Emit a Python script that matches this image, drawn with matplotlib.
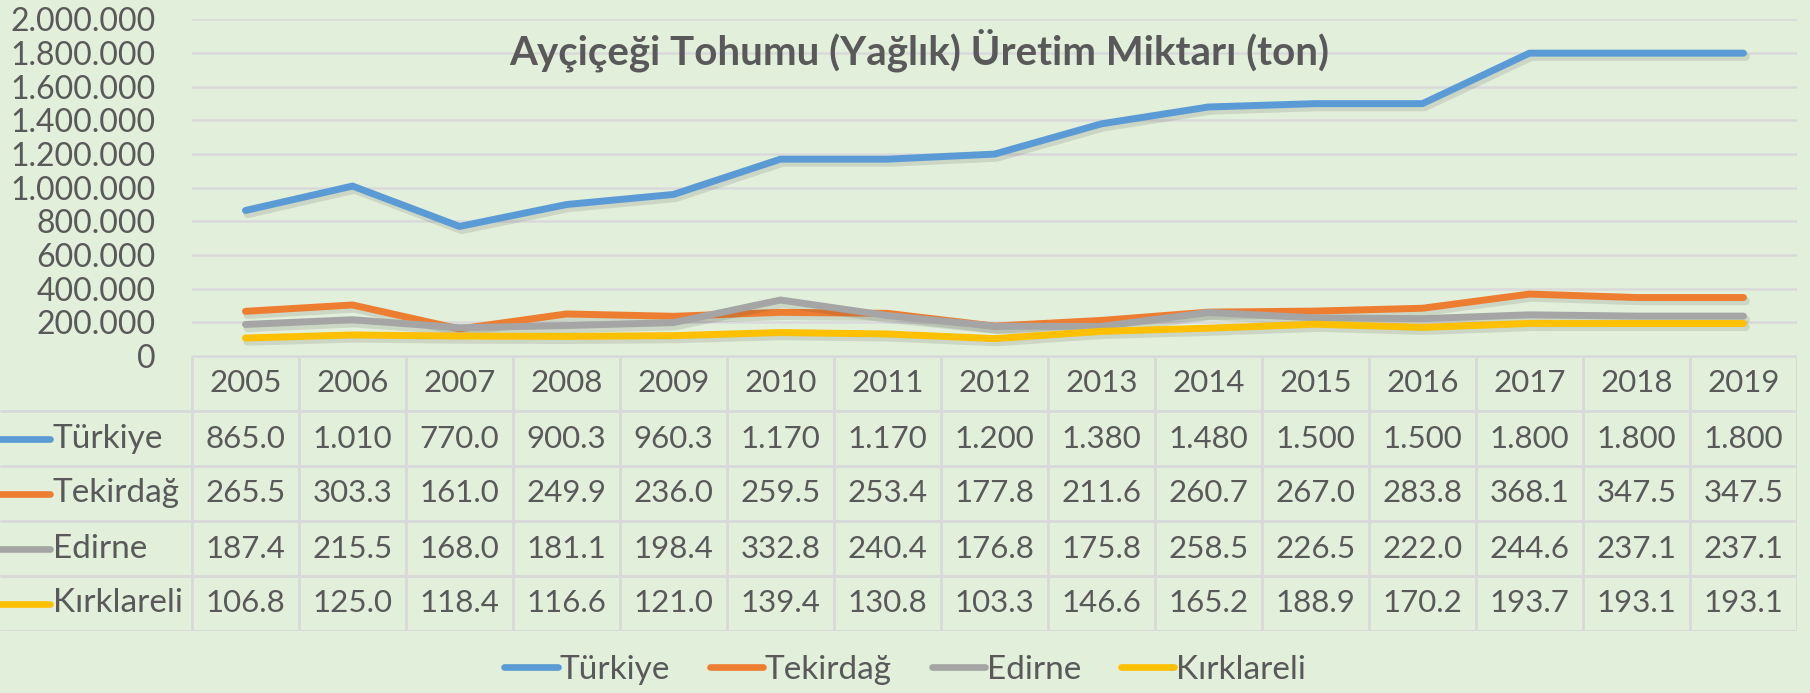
import matplotlib
matplotlib.use("Agg")
import matplotlib.pyplot as plt
import matplotlib.patheffects as pe
from matplotlib.lines import Line2D
from matplotlib.ticker import FuncFormatter, MultipleLocator

plt.rcParams['font.family'] = ['Lato', 'DejaVu Sans']

years = ['2005', '2006', '2007', '2008', '2009', '2010', '2011', '2012',
         '2013', '2014', '2015', '2016', '2017', '2018', '2019']
series_names = ['Türkiye', 'Tekirdağ', 'Edirne', 'Kırklareli']
# values in thousand tons
turkiye = [865.0, 1010, 770.0, 900.3, 960.3, 1170, 1170, 1200, 1380, 1480, 1500, 1500, 1800, 1800, 1800]
tekirdag = [265.5, 303.3, 161.0, 249.9, 236.0, 259.5, 253.4, 177.8, 211.6, 260.7, 267.0, 283.8, 368.1, 347.5, 347.5]
edirne = [187.4, 215.5, 168.0, 181.1, 198.4, 332.8, 240.4, 176.8, 175.8, 258.5, 226.5, 222.0, 244.6, 237.1, 237.1]
kirklareli = [106.8, 125.0, 118.4, 116.6, 121.0, 139.4, 130.8, 103.3, 146.6, 165.2, 188.9, 170.2, 193.7, 193.1, 193.1]
series_values = [turkiye, tekirdag, edirne, kirklareli]
colors = ['#5B9BD5', '#ED7D31', '#A5A5A5', '#FFC000']
title = 'Ayçiçeği Tohumu (Yağlık) Üretim Miktarı (ton)'

BG = '#E2EFDA'
TXT = '#595959'
GRID = '#D9D9D9'
FS = 22.5
FS_NAME = 24

W, H = 1810, 693
fig = plt.figure(figsize=(W / 100, H / 100), dpi=100, facecolor=BG)

# pixel layout
ax_l, ax_r = 192, 1797
ax_top, ax_bot = 19.5, 356
tab_bot = 631
n = len(years)
colw = (ax_r - ax_l) / n

ax = fig.add_axes([ax_l / W, 1 - ax_bot / H, (ax_r - ax_l) / W, (ax_bot - ax_top) / H])
ax.set_facecolor(BG)
x = list(range(n))
shadow = [pe.SimpleLineShadow(offset=(1.5, -2.5), shadow_color='#404040', alpha=0.14, linewidth=6),
          pe.Normal()]
for name, vals, c in zip(series_names, series_values, colors):
    ax.plot(x, [v * 1000 for v in vals], color=c, lw=5, solid_capstyle='round',
            solid_joinstyle='round', path_effects=shadow, zorder=3)
ax.set_xlim(-0.5, n - 0.5)
ax.set_ylim(0, 2000000)
ax.yaxis.set_major_locator(MultipleLocator(200000))
ax.yaxis.set_major_formatter(FuncFormatter(lambda v, p: f"{int(v):,}".replace(',', '.')))
ax.tick_params(axis='y', length=0, pad=26, labelsize=23, labelcolor=TXT)
ax.set_xticks([])
ax.grid(axis='y', color=GRID, lw=1.8, zorder=0)
for s in ax.spines.values():
    s.set_visible(False)
ax.text(0.453, 0.91, title, transform=ax.transAxes, ha='center', va='center',
        fontsize=29, fontweight='bold', color=TXT)

# data table
tab = fig.add_axes([0, 1 - tab_bot / H, ax_r / W, (tab_bot - ax_bot) / H])
tab.set_facecolor(BG)
tab.axis('off')
x0 = -0.5 - ax_l / colw
tab.set_xlim(x0, n - 0.5)
nrows = len(series_names) + 1
tab.set_ylim(nrows, 0)
lk = dict(color=GRID, lw=2, solid_capstyle='butt')
tab.plot([-0.5, n - 0.5], [0, 0], **lk)
for r in range(1, nrows + 1):
    tab.plot([x0, n - 0.5], [r, r], **lk)
for cidx in range(n + 1):
    tab.plot([cidx - 0.5, cidx - 0.5], [0, nrows], **lk)
for i, yr in enumerate(years):
    tab.text(i, 0.5, yr, ha='center', va='center', fontsize=FS, color=TXT)


def fmt(v):
    return f"{v:.1f}" if v < 1000 else f"{v:,.0f}".replace(',', '.')


for r, (name, vals, c) in enumerate(zip(series_names, series_values, colors), start=1):
    tab.plot([x0, x0 + 50 / colw], [r + 0.5, r + 0.5], color=c, lw=4.8, solid_capstyle='round')
    tab.text(x0 + 53 / colw, r + 0.5, name, ha='left', va='center', fontsize=FS_NAME, color=TXT)
    for i, v in enumerate(vals):
        tab.text(i, r + 0.5, fmt(v), ha='center', va='center', fontsize=FS, color=TXT)

handles = [Line2D([], [], color=c, lw=4.8, solid_capstyle='round') for c in colors]
fig.legend(handles, series_names, loc='center', bbox_to_anchor=(905 / W, 1 - 670 / H), ncol=4,
           frameon=False, fontsize=FS_NAME, labelcolor=TXT, handlelength=1.6, handletextpad=0.05,
           columnspacing=1.2)

fig.savefig('out.png', dpi=100, facecolor=BG)
